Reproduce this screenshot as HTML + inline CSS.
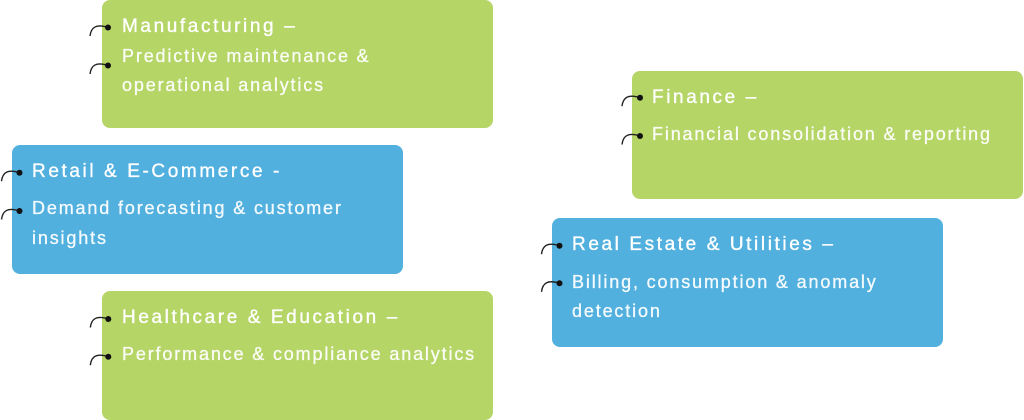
<!DOCTYPE html>
<html>
<head>
<meta charset="utf-8">
<style>
  html, body { margin: 0; padding: 0; background: #ffffff; }
  body { width: 1024px; height: 420px; overflow: hidden; }
  svg { display: block; }
  .h { font-family: "Liberation Sans", Arial, sans-serif; font-size: 19px; letter-spacing: 2.6px; fill: #ffffff; stroke: #ffffff; stroke-width: 0.35; }
  .s { font-family: "Liberation Sans", Arial, sans-serif; font-size: 18px; letter-spacing: 1.85px; fill: #ffffff; fill-opacity: 0.93; stroke: #ffffff; stroke-opacity: 0.9; stroke-width: 0.3; }
  .c { fill: none; stroke: #222; stroke-width: 1.4; }
  .d { fill: #111; }
</style>
</head>
<body>
<svg width="1024" height="420" viewBox="0 0 1024 420" xmlns="http://www.w3.org/2000/svg">
  <defs>
    <g id="b">
      <path class="c" d="M -18 8.5 C -17 0, -12 -4, 0 0"/>
      <circle class="d" cx="0" cy="0" r="3"/>
    </g>
  </defs>

  <!-- Manufacturing -->
  <rect x="102" y="0" width="391" height="128" rx="8" fill="#b5d567"/>
  <use href="#b" x="108" y="27.5"/>
  <use href="#b" x="108" y="65.5"/>
  <text class="h" x="122" y="32">Manufacturing –</text>
  <text class="s" x="122" y="62">Predictive maintenance &amp;</text>
  <text class="s" x="122" y="91">operational analytics</text>

  <!-- Retail -->
  <rect x="12" y="145" width="391" height="129" rx="8" fill="#52b0df"/>
  <use href="#b" x="19.5" y="172.7"/>
  <use href="#b" x="19.5" y="211"/>
  <text class="h" x="32" y="177">Retail &amp; E-Commerce -</text>
  <text class="s" x="32" y="214">Demand forecasting &amp; customer</text>
  <text class="s" x="32" y="244">insights</text>

  <!-- Finance -->
  <rect x="632" y="71" width="391" height="128" rx="8" fill="#b5d567"/>
  <use href="#b" x="640" y="97.7"/>
  <use href="#b" x="640" y="136"/>
  <text class="h" x="652" y="103">Finance –</text>
  <text class="s" x="652" y="140">Financial consolidation &amp; reporting</text>

  <!-- Real Estate -->
  <rect x="552" y="218" width="391" height="129" rx="8" fill="#52b0df"/>
  <use href="#b" x="559.5" y="245.7"/>
  <use href="#b" x="559.5" y="283.3"/>
  <text class="h" x="572" y="250">Real Estate &amp; Utilities –</text>
  <text class="s" x="572" y="288">Billing, consumption &amp; anomaly</text>
  <text class="s" x="572" y="317">detection</text>

  <!-- Healthcare -->
  <rect x="102" y="291" width="391" height="129" rx="8" fill="#b5d567"/>
  <use href="#b" x="108.3" y="319"/>
  <use href="#b" x="108.3" y="356.7"/>
  <text class="h" x="122" y="323">Healthcare &amp; Education –</text>
  <text class="s" x="122" y="360">Performance &amp; compliance analytics</text>
</svg>
</body>
</html>
